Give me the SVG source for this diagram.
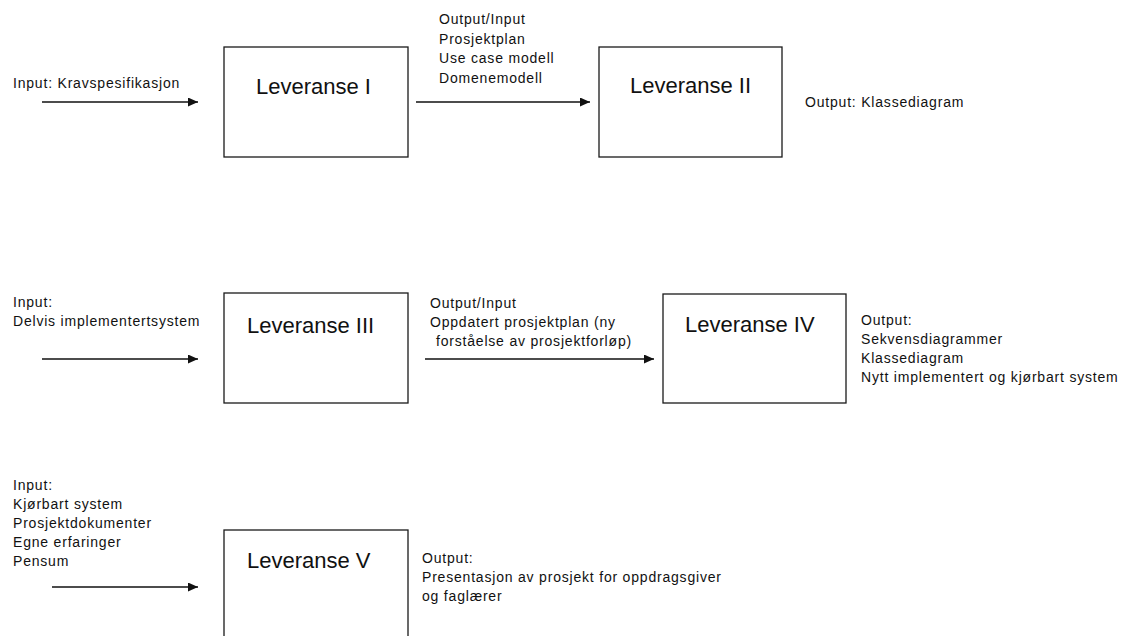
<svg xmlns="http://www.w3.org/2000/svg" width="1125" height="636" viewBox="0 0 1125 636">
<defs>
<style>
.box{fill:#fff;stroke:#1a1a1a;stroke-width:1.3}
.big{font-family:"Liberation Sans",Arial,sans-serif;font-size:22px;fill:#111}
.lbl{font-family:"Liberation Sans",Arial,sans-serif;font-size:14px;letter-spacing:0.8px;fill:#111}
.arr{stroke:#111;stroke-width:1.3;fill:none;marker-end:url(#ah)}
</style>
<marker id="ah" markerUnits="userSpaceOnUse" markerWidth="11" markerHeight="9" refX="10" refY="4.5" orient="auto">
<path d="M0,0 L10,4.5 L0,9 Z" fill="#111"/>
</marker>
</defs>
<rect width="1125" height="636" fill="#fff"/>

<g id="connectors">
<line class="arr" x1="42" y1="102" x2="198" y2="102"/>
<line class="arr" x1="416" y1="102" x2="590" y2="102"/>
<line class="arr" x1="42" y1="359" x2="198" y2="359"/>
<line class="arr" x1="425" y1="359" x2="654" y2="359"/>
<line class="arr" x1="52" y1="587" x2="198" y2="587"/>
</g>

<g id="leveranse1">
<rect class="box" x="224" y="47" width="184" height="110"/>
<text class="big" x="256" y="94">Leveranse I</text>
</g>
<g id="leveranse2">
<rect class="box" x="599" y="47" width="183" height="110"/>
<text class="big" x="630" y="93">Leveranse II</text>
</g>
<g id="leveranse3">
<rect class="box" x="224" y="293" width="184" height="110"/>
<text class="big" x="247" y="333">Leveranse III</text>
</g>
<g id="leveranse4">
<rect class="box" x="663" y="294" width="183" height="109"/>
<text class="big" x="685" y="332">Leveranse IV</text>
</g>
<g id="leveranse5">
<rect class="box" x="224" y="530" width="184" height="140"/>
<text class="big" x="247" y="568">Leveranse V</text>
</g>

<g id="labels">
<text class="lbl" x="13" y="88">Input: Kravspesifikasjon</text>
<text class="lbl" x="439" y="24">Output/Input</text>
<text class="lbl" x="439" y="43.5">Prosjektplan</text>
<text class="lbl" x="439" y="63">Use case modell</text>
<text class="lbl" x="439" y="82.5">Domenemodell</text>
<text class="lbl" x="805" y="107">Output: Klassediagram</text>

<text class="lbl" x="13" y="307">Input:</text>
<text class="lbl" x="13" y="326">Delvis implementertsystem</text>
<text class="lbl" x="430" y="308">Output/Input</text>
<text class="lbl" x="430" y="327">Oppdatert prosjektplan (ny</text>
<text class="lbl" x="436" y="346">forståelse av prosjektforløp)</text>
<text class="lbl" x="861" y="325">Output:</text>
<text class="lbl" x="861" y="344">Sekvensdiagrammer</text>
<text class="lbl" x="861" y="363">Klassediagram</text>
<text class="lbl" x="861" y="382">Nytt implementert og kjørbart system</text>

<text class="lbl" x="13" y="490">Input:</text>
<text class="lbl" x="13" y="509">Kjørbart system</text>
<text class="lbl" x="13" y="528">Prosjektdokumenter</text>
<text class="lbl" x="13" y="547">Egne erfaringer</text>
<text class="lbl" x="13" y="566">Pensum</text>
<text class="lbl" x="422" y="563">Output:</text>
<text class="lbl" x="422" y="582">Presentasjon av prosjekt for oppdragsgiver</text>
<text class="lbl" x="422" y="601">og faglærer</text>
</g>
</svg>
